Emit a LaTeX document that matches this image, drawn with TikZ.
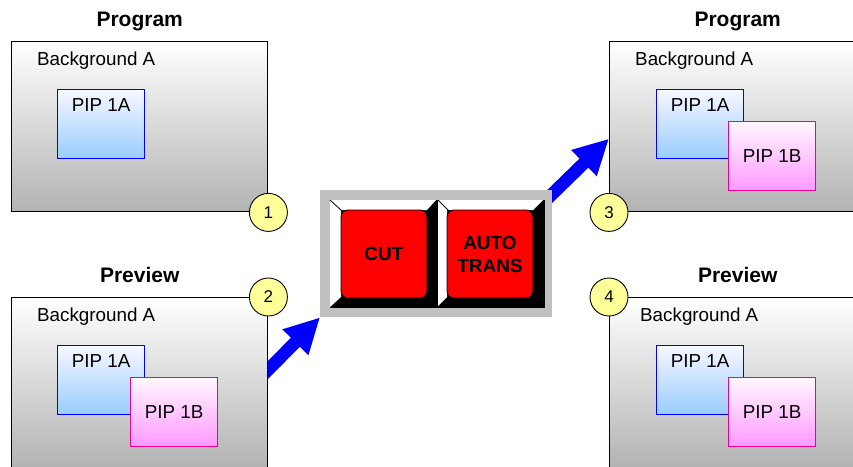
\documentclass[tikz,border=0pt]{standalone}
\usepackage{fontspec}
\setsansfont{Liberation Sans}
\usetikzlibrary{positioning,arrows.meta,backgrounds}
\definecolor{pipblue}{RGB}{153,204,255}
\definecolor{pippink}{RGB}{255,153,255}
\definecolor{numyellow}{RGB}{255,255,153}
\definecolor{panelgray}{RGB}{192,192,192}
\begin{document}
\begin{tikzpicture}[font=\sffamily,x=1pt,y=-1pt,
  screen/.style={draw=black,line width=1.4pt,top color=white,bottom color=black!30,minimum width=256pt,minimum height=170pt,anchor=north west,inner sep=0pt},
  pipa/.style={draw=blue,line width=1.3pt,top color=blue!3,bottom color=pipblue,minimum width=87pt,minimum height=69pt,inner sep=0pt},
  pipb/.style={draw=magenta,line width=1.3pt,top color=magenta!3,bottom color=pippink,minimum width=87pt,minimum height=69pt,inner sep=0pt,font=\sffamily\fontsize{18.8}{22}\selectfont},
  txt/.style={font=\sffamily\fontsize{18.8}{22}\selectfont,inner sep=0pt},
  title/.style={font=\sffamily\bfseries\fontsize{21}{24}\selectfont,inner sep=0pt,anchor=base},
  numdot/.style={circle,draw=black,line width=0.9pt,fill=numyellow,minimum size=38pt,inner sep=0pt,font=\sffamily\fontsize{17}{20}\selectfont},
  button/.style={draw=black,line width=0.8pt,fill=red,rounded corners=7pt,minimum width=86pt,minimum height=88pt,inner sep=0pt,align=center,font=\sffamily\bfseries\fontsize{19}{23}\selectfont},
  bigarrow/.style={blue,line width=12.7pt,-{Triangle[width=34pt,length=35pt]}}]
\useasboundingbox (0,0) rectangle (853,466);
\clip (0,0) rectangle (853,466);
\node[screen] (prog1) at (11,41) {};
\node[screen] (prev1) at (11,297) {};
\node[screen] (prog2) at (609,41) {};
\node[screen] (prev2) at (609,297) {};
\node[title] (tprog1) at ([yshift=15pt]prog1.north) {Program};
\node[title] (tprev1) at ([yshift=15pt]prev1.north) {Preview};
\node[title] (tprog2) at ([yshift=15pt]prog2.north) {Program};
\node[title] (tprev2) at ([yshift=15pt]prev2.north) {Preview};
\node[txt,anchor=base west] (bg1) at ([xshift=26pt,yshift=-24pt]prog1.north west) {Background A};
\node[txt,anchor=base west] (bg2) at ([xshift=26pt,yshift=-24pt]prev1.north west) {Background A};
\node[txt,anchor=base west] (bg3) at ([xshift=26pt,yshift=-24pt]prog2.north west) {Background A};
\node[txt,anchor=base west] (bg4) at ([xshift=31pt,yshift=-24pt]prev2.north west) {Background A};
\node[pipa,below right=48pt and 46pt of prog1.north west] (pa1) {};
\node[txt,anchor=base] (la1) at ([yshift=-22pt]pa1.north) {PIP 1A};
\node[pipa,below right=48pt and 46pt of prev1.north west] (pa2) {};
\node[txt,anchor=base] (la2) at ([yshift=-22pt]pa2.north) {PIP 1A};
\node[pipb,below right=80pt and 119pt of prev1.north west] (pb2) {PIP 1B};
\node[pipa,below right=48pt and 47pt of prog2.north west] (pa3) {};
\node[txt,anchor=base] (la3) at ([yshift=-22pt]pa3.north) {PIP 1A};
\node[pipb,below right=80pt and 119pt of prog2.north west] (pb3) {PIP 1B};
\node[pipa,below right=48pt and 47pt of prev2.north west] (pa4) {};
\node[txt,anchor=base] (la4) at ([yshift=-22pt]pa4.north) {PIP 1A};
\node[pipb,below right=80pt and 119pt of prev2.north west] (pb4) {PIP 1B};
\node[numdot] (n1) at (prog1.south east) {1};
\node[numdot] (n2) at (prev1.north east) {2};
\node[numdot] (n3) at (prog2.south west) {3};
\node[numdot] (n4) at (prev2.north west) {4};
\node[fill=panelgray,anchor=north west,minimum width=232pt,minimum height=127pt,inner sep=0pt] (panel) at (320,190) {};
\fill[black] (330,200) rectangle (545,308);
\fill[white] (330,200) -- (436,200) -- (427,210) -- (341,210) -- (341,297) -- (330,307) -- cycle;
\fill[white] (438,200) -- (543,200) -- (533,210) -- (447,210) -- (447,297) -- (438,306) -- cycle;
\draw[line width=0.8pt] (330,200) -- (342,211);
\draw[line width=0.8pt] (438,200) -- (449,211);
\node[button] (cut) at (384,254) {CUT};
\node[button] (auto) at (490,254) {AUTO\\TRANS};
\begin{scope}[on background layer]
\coordinate (a1) at (255,383);
\draw[bigarrow] (a1) -- (panel.south west);
\coordinate (a2) at (544,202);
\draw[bigarrow] (a2) -- ([yshift=-12pt]prog2.west);
\end{scope}
\end{tikzpicture}
\end{document}
